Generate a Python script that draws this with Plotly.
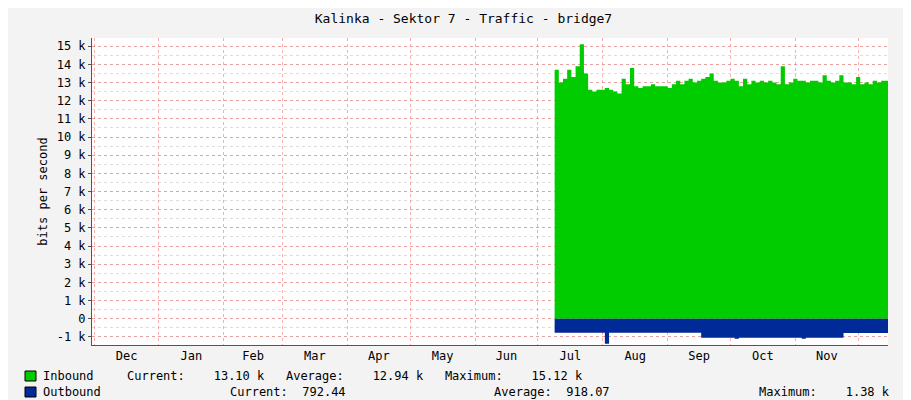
import plotly.graph_objects as go
import pandas as pd

start_date = "2013-07-09"
inbound_k = [13.7,13.0,13.2,13.7,13.3,13.9,15.1,13.5,12.6,12.5,12.6,12.6,12.7,12.6,12.5,12.4,13.2,12.9,13.8,12.8,
             12.7,12.8,12.8,12.9,12.8,12.8,12.8,12.7,12.9,13.1,12.9,13.1,13.2,13.0,13.1,13.2,13.3,13.5,13.1,13.0,
             13.0,13.1,13.2,13.1,12.8,13.2,12.9,13.1,13.0,13.1,13.0,13.1,13.0,12.9,13.9,12.9,13.0,13.2,13.1,13.1,
             13.0,13.1,13.1,13.0,13.4,13.1,13.0,13.1,13.4,13.0,13.0,12.9,13.3,12.9,13.0,12.9,13.1,13.0,13.1,13.1]
outbound_k = [0.78]*12 + [1.38] + [0.78]*22 + [1.05]*8 + [1.1] + [1.05]*15 + [1.1] + [1.05]*9 + [0.79]*11
ytick_vals = list(range(-1, 16))
ytick_text = [("%d k" % v if v != 0 else "0") for v in ytick_vals]
legend_rows = [
    ("Inbound", "#00CC00", "Current:    13.10 k   Average:    12.94 k   Maximum:    15.12 k"),
    ("Outbound", "#002A97", ""),
]

dates = list(pd.date_range(start_date, periods=len(inbound_k) + 1, freq="2D"))
inb = inbound_k + [inbound_k[-1]]
outb = [-v for v in outbound_k] + [-outbound_k[-1]]

font = "DejaVu Sans Mono"
fig = go.Figure()
fig.add_trace(go.Scatter(x=dates, y=inb, mode="lines", line=dict(width=0, shape="hv", color="#00CC00"),
                         fill="tozeroy", fillcolor="#00CC00", showlegend=False))
fig.add_trace(go.Scatter(x=dates, y=outb, mode="lines", line=dict(width=0, shape="hv", color="#002A97"),
                         fill="tozeroy", fillcolor="#002A97", showlegend=False))

fig.update_layout(
    width=911, height=400, paper_bgcolor="#F3F3F3", plot_bgcolor="#FFFFFF",
    margin=dict(l=84, r=31, t=30, b=63, autoexpand=False),
    font=dict(family=font, size=12, color="#000"),
    title=dict(text="Kalinka - Sektor 7 - Traffic - bridge7", x=0.5, xanchor="center", y=0.985, yanchor="top",
               font=dict(family=font, size=13)),
    xaxis=dict(type="date", range=["2012-11-30", "2013-12-15 06:00"], dtick="M1", tick0="2012-12-01",
               tickformat="%b", ticklabelmode="period", showgrid=True, gridcolor="rgba(240,120,120,0.6)",
               griddash="dot", gridwidth=1, showline=True, linecolor="#555", ticks="", zeroline=False,
               automargin=False, tickfont=dict(family=font, size=12)),
    yaxis=dict(range=[-1.45, 15.45], tickvals=ytick_vals, ticktext=ytick_text, showgrid=True,
               gridcolor="rgba(240,120,120,0.6)", griddash="dot", showline=True, linecolor="#555",
               zeroline=False, ticks="outside", ticklen=3, tickcolor="#555", automargin=False,
               minor=dict(dtick=0.5, tick0=0.5, showgrid=True, gridcolor="#DDDDDD", griddash="dot"),
               title=dict(text="bits per second", standoff=6, font=dict(family=font, size=12)),
               tickfont=dict(family=font, size=12)),
)

anns = []
shapes = []
ys = [368, 384]
for (name, col, _), yp in zip(legend_rows, ys):
    shapes.append(dict(type="rect", xref="paper", yref="paper",
                       x0=(17 - 84) / 796, x1=(28 - 84) / 796,
                       y0=(337 - yp - 5) / 307, y1=(337 - yp + 5) / 307,
                       fillcolor=col, line=dict(color="#000", width=1)))
    anns.append(dict(text=name, x=(33 - 84) / 796, y=(337 - yp) / 307, xref="paper", yref="paper",
                     xanchor="left", yanchor="middle", showarrow=False, font=dict(family=font, size=12)))
anns.append(dict(text=legend_rows[0][2].replace(" ", "&nbsp;"), x=(117 - 84) / 796, y=(337 - 368) / 307,
                 xref="paper", yref="paper", xanchor="left", yanchor="middle", showarrow=False,
                 font=dict(family=font, size=12)))
for txt, xp in [("Current:&nbsp;&nbsp;792.44", 220), ("Average:&nbsp;&nbsp;918.07", 484),
                ("Maximum:&nbsp;&nbsp;&nbsp;&nbsp;1.38&nbsp;k", 749)]:
    anns.append(dict(text=txt, x=(xp - 84) / 796, y=(337 - 384) / 307, xref="paper", yref="paper",
                     xanchor="left", yanchor="middle", showarrow=False, font=dict(family=font, size=12)))
anns.append(dict(text="RRDTOOL / TOBI OETIKER", x=(900 - 84) / 796, y=(337 - 28) / 307, xref="paper",
                 yref="paper", xanchor="center", yanchor="top", textangle=90, showarrow=False,
                 font=dict(family=font, size=8, color="#AAAAAA")))
fig.update_layout(annotations=anns, shapes=shapes)
fig.write_html("out.html")
